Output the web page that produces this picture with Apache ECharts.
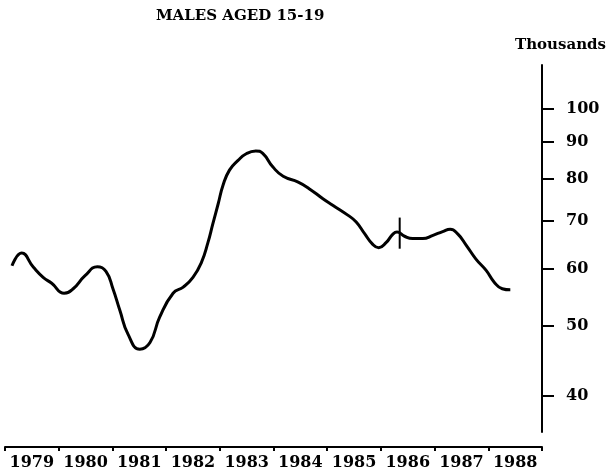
<!DOCTYPE html>
<html>
<head>
<meta charset="utf-8">
<script src="https://cdn.jsdelivr.net/npm/echarts@6/dist/echarts.min.js"></script>
<style>
  html, body { margin: 0; padding: 0; background: #fff; }
  #chart { width: 608px; height: 475px; }
</style>
</head>
<body>
<div id="chart"></div>
<script>
// males aged 15-19, thousands (~quarterly)
var years = [
    1979.13, 1979.31, 1979.53, 1979.71, 1979.87, 1980.10, 1980.27, 1980.49, 1980.72, 1980.88,
    1981.01, 1981.14, 1981.29, 1981.51, 1981.70, 1981.88, 1982.13, 1982.32, 1982.50, 1982.66,
    1982.78, 1982.87, 1982.97, 1983.06, 1983.18, 1983.34, 1983.50, 1983.67, 1983.80, 1983.99,
    1984.18, 1984.46, 1984.67, 1984.92, 1985.11, 1985.39, 1985.54, 1985.70, 1985.84, 1985.96,
    1986.10, 1986.22, 1986.30, 1986.44, 1986.59, 1986.78, 1986.97, 1987.15, 1987.29, 1987.43,
    1987.59, 1987.77, 1987.96, 1988.11, 1988.26, 1988.41
];
var males = [
    60.6, 63.1, 60.3, 58.4, 57.3, 55.5, 56.3, 58.7, 60.4, 59.5,
    56.3, 52.5, 48.7, 46.4, 47.4, 51.4, 55.5, 56.6, 58.4, 61.3,
    65.3, 69.3, 73.9, 78.4, 82.3, 84.9, 86.8, 87.5, 86.8, 83.1,
    80.7, 79.2, 77.5, 75.1, 73.5, 71.2, 69.7, 67.1, 65.0, 64.2,
    65.3, 67.0, 67.5, 66.6, 66.1, 66.1, 66.8, 67.6, 68.1, 67.1,
    64.7, 61.9, 59.7, 57.5, 56.3, 56.1
];
// vertical break mark on the curve: [year, from, to]
var breakMark = [1986.35, 70.7, 64.0];

var yearTicks = [1979, 1980, 1981, 1982, 1983, 1984, 1985, 1986, 1987, 1988, 1989];
var yearLabels = [1979.5, 1980.5, 1981.5, 1982.5, 1983.5, 1984.5, 1985.5, 1986.5, 1987.5, 1988.5];
var yTicks = [40, 50, 60, 70, 80, 90, 100];
var yMin = 35.6, yMax = 115.2;

var font = 'DejaVu Serif';

var chart = echarts.init(document.getElementById('chart'));

var lineData = years.map(function (y, i) {
    return [y, Math.log10(males[i])];
});
var breakData = [
    [breakMark[0], Math.log10(breakMark[1])],
    [breakMark[0], Math.log10(breakMark[2])]
];

chart.setOption({
    animation: false,
    backgroundColor: '#fff',
    title: [{
        text: 'MALES AGED 15-19',
        left: 156,
        top: 9,
        padding: 0,
        textStyle: { fontFamily: font, fontWeight: 'bold', fontSize: 15, color: '#000' }
    }, {
        text: 'Thousands',
        right: 2,
        top: 38,
        padding: 0,
        textStyle: { fontFamily: font, fontWeight: 'bold', fontSize: 15, color: '#000' }
    }],
    grid: { left: 5, right: 66, top: 65, bottom: 43 },
    xAxis: {
        type: 'value',
        min: 1979,
        max: 1989,
        offset: 15,
        splitLine: { show: false },
        axisLine: { show: true, lineStyle: { color: '#000', width: 2 } },
        axisTick: {
            show: true,
            customValues: yearTicks,
            length: 4,
            lineStyle: { color: '#000', width: 2 }
        },
        axisLabel: {
            customValues: yearLabels,
            margin: 8,
            fontFamily: font,
            fontWeight: 'bold',
            fontSize: 16,
            color: '#000',
            formatter: function (v) { return String(Math.floor(v)); }
        }
    },
    yAxis: {
        type: 'value',
        position: 'right',
        min: Math.log10(yMin),
        max: Math.log10(yMax),
        splitLine: { show: false },
        axisLine: { show: true, lineStyle: { color: '#000', width: 2 } },
        axisTick: {
            show: true,
            customValues: yTicks.map(function (v) { return Math.log10(v); }),
            length: 12,
            lineStyle: { color: '#000', width: 2 }
        },
        axisLabel: {
            customValues: yTicks.map(function (v) { return Math.log10(v); }),
            margin: 24,
            fontFamily: font,
            fontWeight: 'bold',
            fontSize: 16,
            color: '#000',
            formatter: function (v) { return String(Math.round(Math.pow(10, v))); }
        }
    },
    series: [{
        type: 'line',
        data: lineData,
        smooth: 0.5,
        showSymbol: false,
        lineStyle: { color: '#000', width: 3 }
    }, {
        type: 'line',
        data: breakData,
        showSymbol: false,
        lineStyle: { color: '#000', width: 2 }
    }]
});
</script>
</body>
</html>
